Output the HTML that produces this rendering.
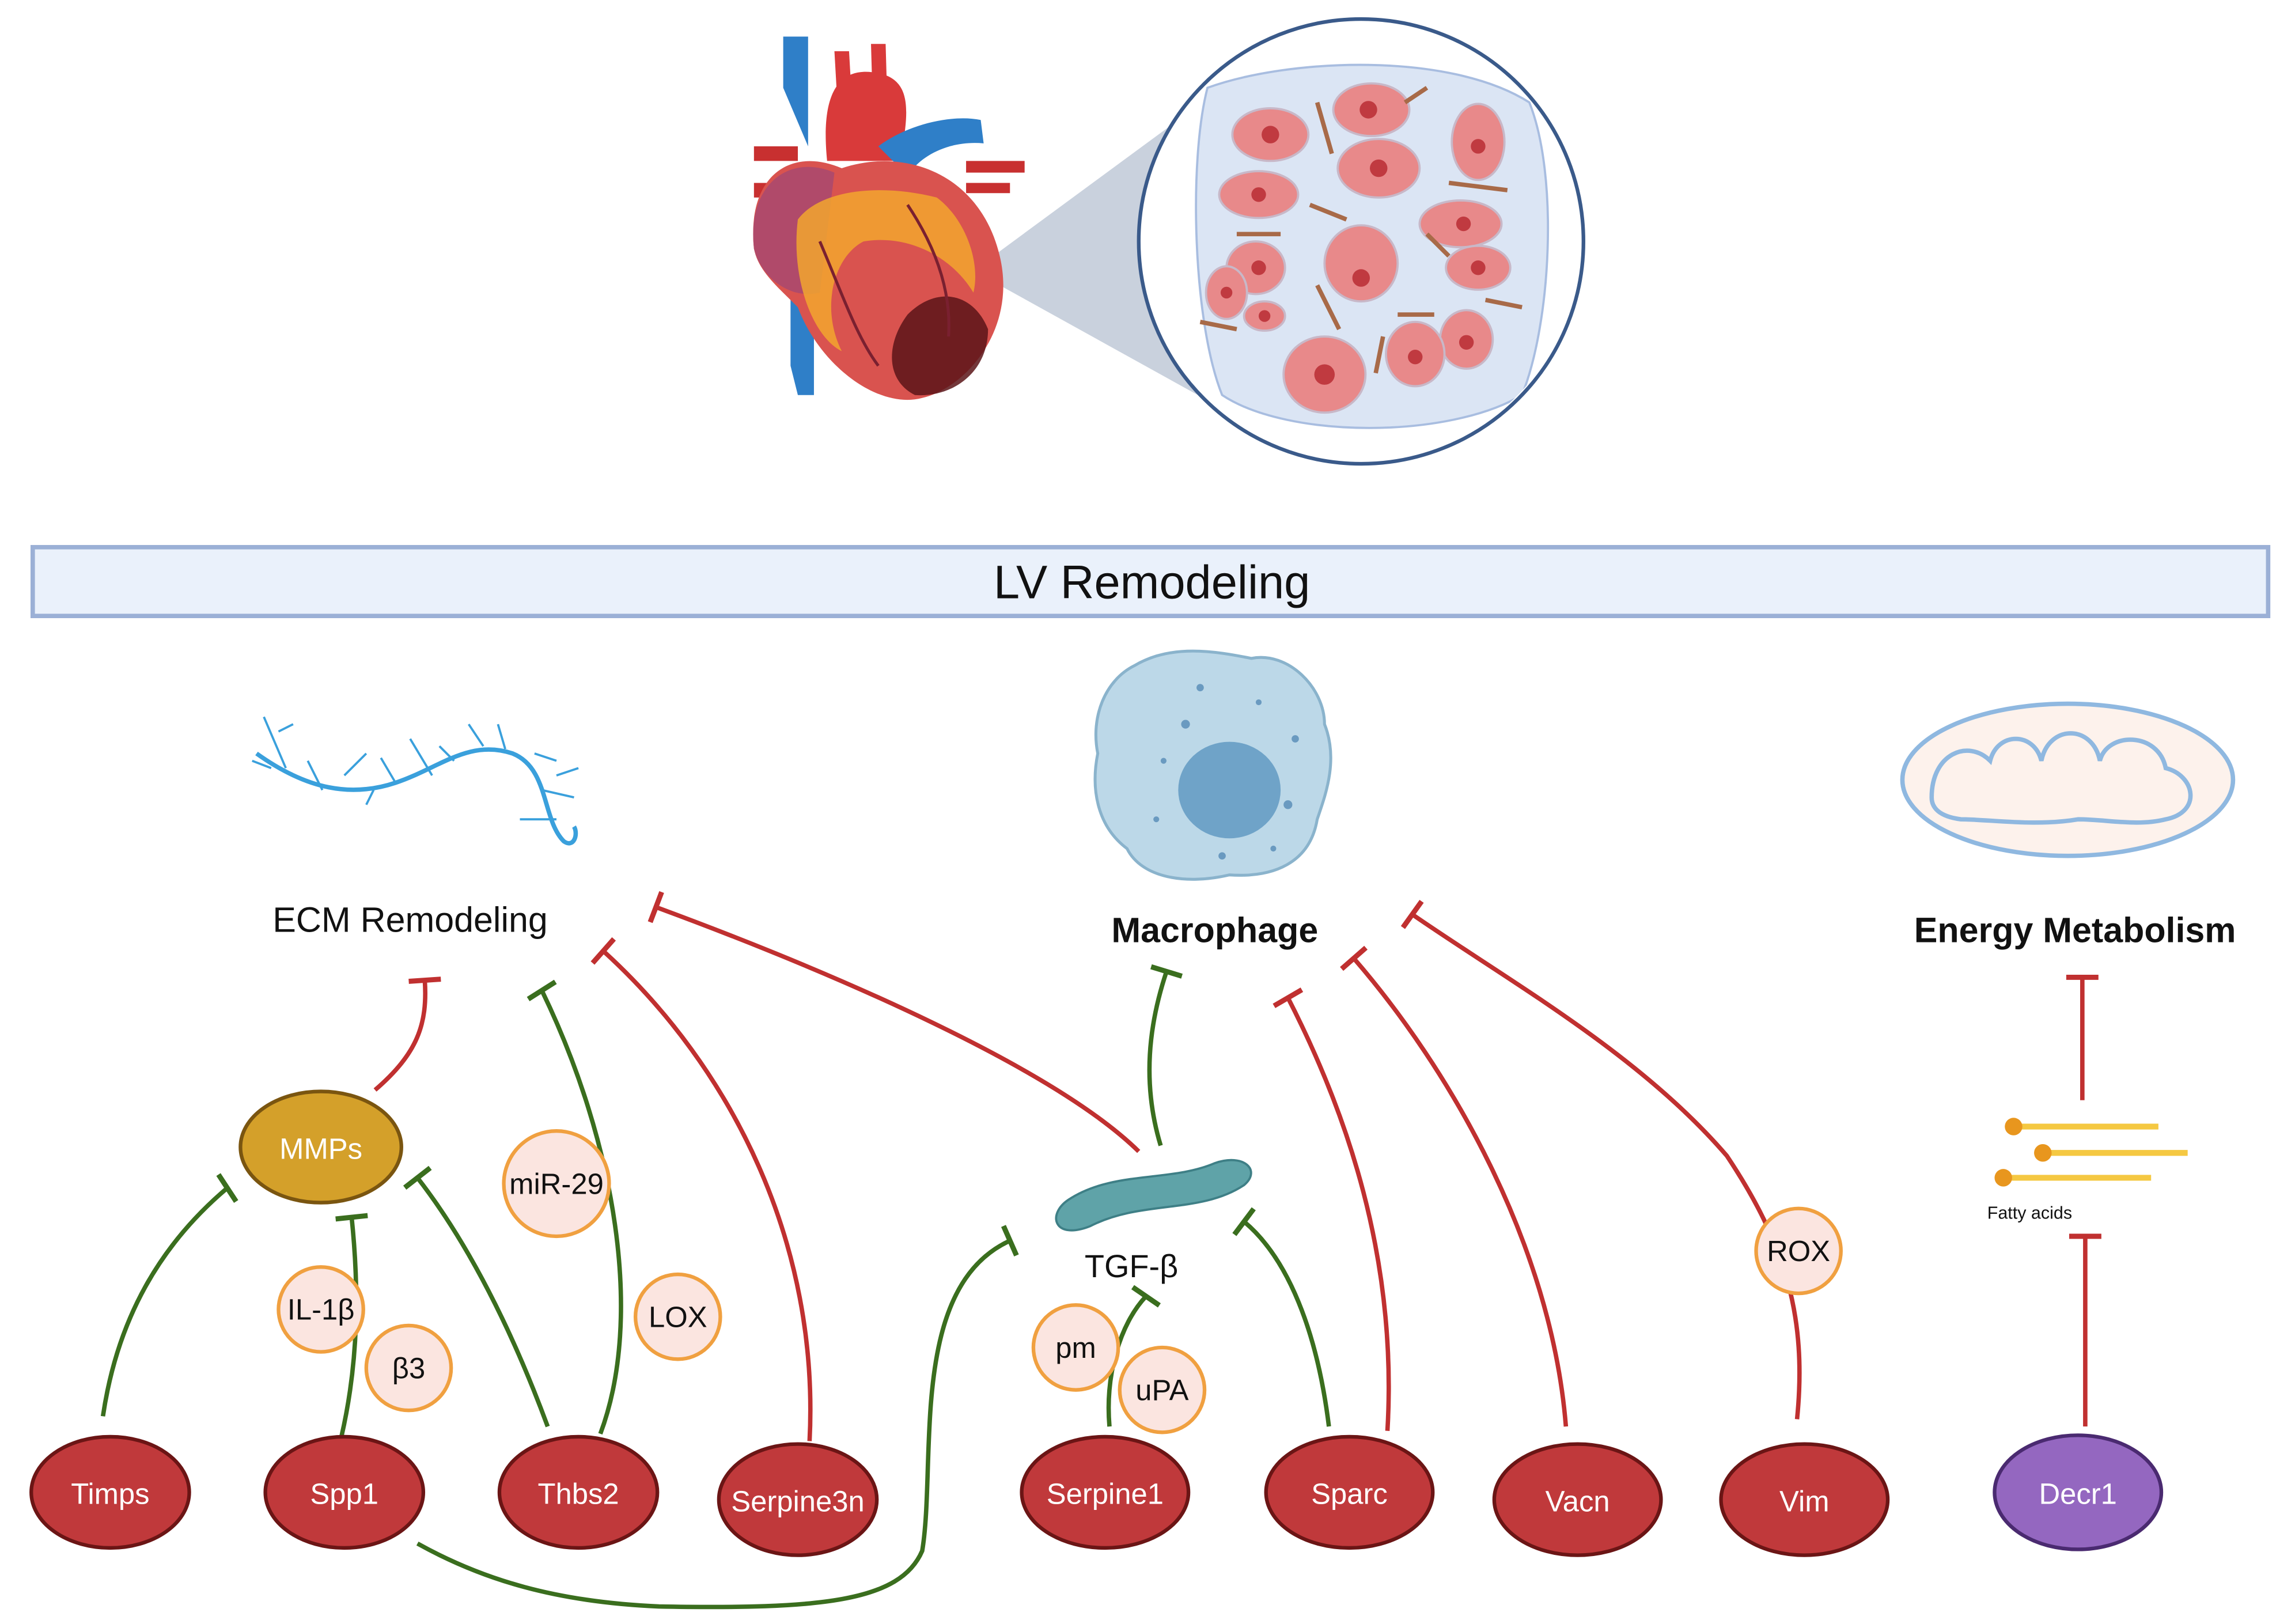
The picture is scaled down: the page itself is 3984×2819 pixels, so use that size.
<!DOCTYPE html>
<html><head><meta charset="utf-8"><style>
html,body{margin:0;padding:0;background:#fff;}
svg{display:block;}
text{font-family:"Liberation Sans",sans-serif;}
</style></head><body>
<svg id="s" width="3984" height="2819" viewBox="0 0 1568 1110" xmlns="http://www.w3.org/2000/svg">
<defs>
<clipPath id="cc"><circle cx="930" cy="165" r="150"/></clipPath>
</defs>
<rect width="1568" height="1110" fill="#fff"/>
<polygon points="665,185 805,82 822,272" fill="#c9d1dd"/>
<g>
<path d="M535,60 L535,25 L552,25 L552,100 Z" fill="#2f7fc8"/>
<path d="M540,250 L540,200 L556,200 L556,270 L545,270 Z" fill="#2f7fc8"/>
<path d="M565,110 C560,60 575,45 600,50 C625,55 620,80 615,110 Z" fill="#d93a3a"/>
<path d="M570,35 L580,35 L582,70 L572,70 Z" fill="#d93a3a"/>
<path d="M595,30 L605,30 L606,65 L596,65 Z" fill="#d93a3a"/>
<path d="M515,100 L545,100 L545,110 L515,110 Z M515,125 L545,125 L545,135 L515,135 Z" fill="#c83030"/>
<path d="M600,100 C620,85 650,78 670,82 L672,98 C650,96 630,105 620,120 Z" fill="#2f7fc8"/>
<path d="M660,110 L700,110 L700,118 L660,118 Z M660,125 L690,125 L690,132 L660,132 Z" fill="#c83030"/>
<path d="M515,170 C510,120 540,100 575,115 C620,100 670,120 683,175 C695,225 660,265 630,272 C600,280 560,250 545,210 C530,195 518,185 515,170 Z" fill="#d9534f"/>
<path d="M515,170 C510,125 540,105 570,118 L560,200 C540,205 520,190 515,170 Z" fill="#b04a6a"/>
<path d="M545,150 C560,130 600,125 640,135 C660,150 670,180 665,200 C650,175 620,160 590,165 C570,175 560,210 575,240 C555,230 540,190 545,150 Z" fill="#f2a62e" opacity="0.85"/>
<path d="M620,215 C640,195 665,200 675,225 C675,255 650,272 625,270 C605,260 605,235 620,215 Z" fill="#5a1418" opacity="0.85"/>
<path d="M560,165 C575,200 585,230 600,250 M620,140 C640,170 650,200 648,230" stroke="#7a2030" stroke-width="2" fill="none"/>
</g>
<circle cx="930" cy="165" r="152" fill="#fff" stroke="#3a5a8a" stroke-width="2.5"/>
<g clip-path="url(#cc)">
<path d="M825,60 C880,40 990,35 1045,70 C1065,120 1060,220 1040,270 C990,300 880,300 835,270 C815,220 812,110 825,60 Z" fill="#dbe5f4" stroke="#a8bde0" stroke-width="1.5"/>
<g fill="#e8898a" stroke="#c8b8c8" stroke-width="1.5">
<ellipse cx="868" cy="92" rx="26" ry="18"/><ellipse cx="937" cy="75" rx="26" ry="18"/><ellipse cx="1010" cy="97" rx="18" ry="26"/>
<ellipse cx="860" cy="133" rx="27" ry="16"/><ellipse cx="942" cy="115" rx="28" ry="20"/><ellipse cx="998" cy="153" rx="28" ry="16"/>
<ellipse cx="858" cy="183" rx="20" ry="18"/><ellipse cx="930" cy="180" rx="25" ry="26"/><ellipse cx="1010" cy="183" rx="22" ry="15"/>
<ellipse cx="838" cy="200" rx="14" ry="18"/><ellipse cx="864" cy="216" rx="14" ry="10"/><ellipse cx="1002" cy="232" rx="18" ry="20"/>
<ellipse cx="967" cy="242" rx="20" ry="22"/><ellipse cx="905" cy="256" rx="28" ry="26"/>
</g>
<g fill="#c03a40">
<circle cx="868" cy="92" r="6"/><circle cx="935" cy="75" r="6"/><circle cx="1010" cy="100" r="5"/><circle cx="860" cy="133" r="5"/><circle cx="942" cy="115" r="6"/><circle cx="1000" cy="153" r="5"/><circle cx="860" cy="183" r="5"/><circle cx="930" cy="190" r="6"/><circle cx="1010" cy="183" r="5"/><circle cx="838" cy="200" r="4"/><circle cx="864" cy="216" r="4"/><circle cx="1002" cy="234" r="5"/><circle cx="967" cy="244" r="5"/><circle cx="905" cy="256" r="7"/>
</g>
<g stroke="#a86a48" stroke-width="3" fill="none">
<path d="M900,70 L910,105 M895,140 L920,150 M975,160 L990,175 M845,160 L875,160 M955,215 L980,215 M820,220 L845,225 M900,195 L915,225 M945,230 L940,255 M1015,205 L1040,210 M990,125 L1030,130 M960,70 L975,60"/>
</g>
</g>
<rect x="22" y="374" width="1528" height="47" fill="#eaf1fb" stroke="#9bb0d6" stroke-width="3"/>
<text x="787" y="409" font-size="32" text-anchor="middle" fill="#111">LV Remodeling</text>
<g stroke="#3aa0dc" stroke-width="3" fill="none">
<path d="M175,515 C210,540 240,545 270,535 C300,525 320,505 350,515 C375,525 370,560 385,575 C392,580 395,570 392,565"/>
<g stroke-width="1.5"><path d="M180,490 L195,525 M190,500 L200,495 M210,520 L220,540 M235,530 L250,515 M260,518 L270,535 M280,505 L295,530 M300,510 L310,520 M320,495 L330,510 M340,495 L345,512 M365,515 L380,520 M370,540 L392,545 M355,560 L380,560 M380,530 L395,525 M172,520 L185,525 M250,550 L255,540"/></g>
</g>
<text x="280" y="637" font-size="24" text-anchor="middle" fill="#111">ECM Remodeling</text>
<path d="M775,455 C800,440 830,445 855,450 C880,445 905,470 905,495 C915,520 905,545 900,560 C895,590 870,600 840,598 C810,605 780,600 770,580 C750,565 745,540 750,515 C745,490 755,465 775,455 Z" fill="#bcd8e8" stroke="#8ab3cc" stroke-width="2"/>
<ellipse cx="840" cy="540" rx="35" ry="33" fill="#6fa3c8"/>
<g fill="#6a9ac0"><circle cx="820" cy="470" r="2.5"/><circle cx="810" cy="495" r="3"/><circle cx="860" cy="480" r="2"/><circle cx="885" cy="505" r="2.5"/><circle cx="795" cy="520" r="2"/><circle cx="880" cy="550" r="3"/><circle cx="790" cy="560" r="2"/><circle cx="835" cy="585" r="2.5"/><circle cx="870" cy="580" r="2"/></g>
<text x="830" y="644" font-size="24" font-weight="bold" text-anchor="middle" fill="#111">Macrophage</text>
<ellipse cx="1413" cy="533" rx="113" ry="52" fill="#fdf2ec" stroke="#8fb8e0" stroke-width="3"/>
<path d="M1320,545 C1320,515 1345,505 1360,520 C1365,500 1390,500 1395,520 C1400,495 1430,495 1435,520 C1440,500 1475,500 1480,525 C1500,530 1505,555 1480,560 C1460,565 1440,560 1420,560 C1390,565 1360,560 1340,560 C1325,558 1320,552 1320,545 Z" fill="none" stroke="#8fb8e0" stroke-width="3"/>
<text x="1418" y="644" font-size="24" font-weight="bold" text-anchor="middle" fill="#111">Energy Metabolism</text>
<g stroke="#f5c842" stroke-width="4"><line x1="1375" y1="770" x2="1475" y2="770"/><line x1="1395" y1="788" x2="1495" y2="788"/><line x1="1368" y1="805" x2="1470" y2="805"/></g>
<g fill="#e8961e"><circle cx="1376" cy="770" r="6"/><circle cx="1396" cy="788" r="6"/><circle cx="1369" cy="805" r="6"/></g>
<text x="1387" y="833" font-size="12" text-anchor="middle" fill="#111">Fatty acids</text>
<path d="M730,820 C760,800 800,808 830,795 C850,788 862,800 850,810 C820,830 780,820 745,838 C720,848 715,830 730,820 Z" fill="#5fa3a8" stroke="#3e7f86" stroke-width="1.5"/>
<text x="773" y="873" font-size="22" text-anchor="middle" fill="#111">TGF-β</text>
<g id="con" fill="none" stroke-width="3"></g>
<ellipse cx="219" cy="784" rx="55" ry="38" fill="#d4a02a" stroke="#7a5510" stroke-width="2.5"/>
<text x="219" y="792" font-size="20" text-anchor="middle" fill="#fff">MMPs</text>
<g fill="#fbe5e0" stroke="#f0a040" stroke-width="2.5">
<circle cx="380" cy="809" r="36"/><circle cx="219" cy="895" r="29"/><circle cx="279" cy="935" r="29"/><circle cx="463" cy="900" r="29"/><circle cx="735" cy="921" r="29"/><circle cx="794" cy="950" r="29"/><circle cx="1229" cy="855" r="29"/>
</g>
<g font-size="20" text-anchor="middle" fill="#111">
<text x="380" y="816">miR-29</text><text x="219" y="902">IL-1β</text><text x="279" y="942">β3</text><text x="463" y="907">LOX</text><text x="735" y="928">pm</text><text x="794" y="957">uPA</text><text x="1229" y="862">ROX</text>
</g>
<g fill="#c0393b" stroke="#6b1515" stroke-width="2.5">
<ellipse cx="75" cy="1020" rx="54" ry="38"/><ellipse cx="235" cy="1020" rx="54" ry="38"/><ellipse cx="395" cy="1020" rx="54" ry="38"/><ellipse cx="545" cy="1025" rx="54" ry="38"/><ellipse cx="755" cy="1020" rx="57" ry="38"/><ellipse cx="922" cy="1020" rx="57" ry="38"/><ellipse cx="1078" cy="1025" rx="57" ry="38"/><ellipse cx="1233" cy="1025" rx="57" ry="38"/>
</g>
<ellipse cx="1420" cy="1020" rx="57" ry="39" fill="#9467c0" stroke="#4a2a70" stroke-width="2.5"/>
<g font-size="20" text-anchor="middle" fill="#fff">
<text x="75" y="1028">Timps</text><text x="235" y="1028">Spp1</text><text x="395" y="1028">Thbs2</text><text x="545" y="1033">Serpine3n</text><text x="755" y="1028">Serpine1</text><text x="922" y="1028">Sparc</text><text x="1078" y="1033">Vacn</text><text x="1233" y="1033">Vim</text><text x="1420" y="1028">Decr1</text>
</g>
</svg>
<script>
var G="#3a6e1e",R="#c03030";
var C=[
[G,"M70,968 C80,900 110,850 155,812",[120,835]],
[G,"M233,982 C245,930 245,880 240,832",[244,870]],
[G,"M374,975 C350,910 320,850 285,805",[320,850]],
[G,"M410,980 C440,900 420,780 370,677",[410,740]],
[R,"M553,985 C560,850 500,730 412,650",[480,710]],
[R,"M256,745 C285,720 292,700 290,670",[292,700]],
[R,"M778,787 C720,730 570,665 448,620",[540,655]],
[G,"M793,783 C780,740 785,700 797,664",[786,700]],
[G,"M285,1055 C330,1080 380,1095 450,1098 C560,1100 615,1095 630,1060 C640,1000 620,880 690,848",[640,870]],
[G,"M758,975 C755,940 765,905 783,886",[770,905]],
[G,"M908,975 C900,910 880,860 850,835",[870,850]],
[R,"M948,978 C955,860 920,760 880,682",[905,725]],
[R,"M1070,975 C1060,850 990,730 925,655",[960,695]],
[R,"M1228,970 C1235,900 1220,850 1180,790 C1120,720 1030,670 965,625",[1000,650]],
[R,"M1425,975 L1425,845",[1425,900]],
[R,"M1423,752 L1423,668",[1423,700]]
];
var g=document.getElementById("con"),ns="http://www.w3.org/2000/svg";
C.forEach(function(c){
 var p=document.createElementNS(ns,"path");p.setAttribute("d",c[1]);p.setAttribute("stroke",c[0]);g.appendChild(p);
 var m=c[1].match(/-?[\d.]+/g),ex=+m[m.length-2],ey=+m[m.length-1];
 var dx=ex-c[2][0],dy=ey-c[2][1],L=Math.hypot(dx,dy);dx/=L;dy/=L;
 var px=-dy*11,py=dx*11;
 var l=document.createElementNS(ns,"line");
 l.setAttribute("x1",ex+px);l.setAttribute("y1",ey+py);l.setAttribute("x2",ex-px);l.setAttribute("y2",ey-py);
 l.setAttribute("stroke",c[0]);l.setAttribute("stroke-width","3.5");g.appendChild(l);
});
</script>
</body></html>
